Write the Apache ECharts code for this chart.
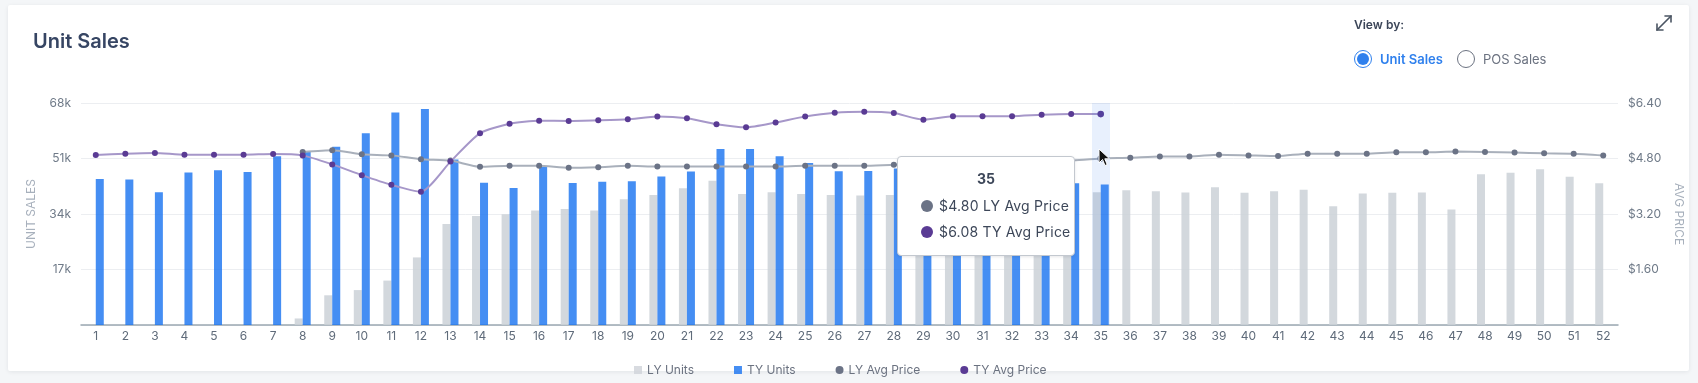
<!DOCTYPE html>
<html>
<head>
<meta charset="utf-8">
<script src="https://cdn.jsdelivr.net/npm/echarts@6/dist/echarts.min.js"></script>
<style>
  html, body { margin:0; padding:0; width:1698px; height:383px; background:#f4f6f8; overflow:hidden; font-family: Inter, "Noto Sans", sans-serif; }
  #card { position:absolute; left:8px; top:5px; width:1681px; height:366px; background:#fff; box-shadow:0 1px 4px rgba(16,24,40,0.08); border-radius:2px; }
  #chart { position:absolute; left:0; top:0; width:1698px; height:383px; }
  .txt { position:absolute; white-space:nowrap; }
  #title { left:33px; top:28.5px; line-height:24px; font-size:20px; font-weight:600; color:#364563; }
  #viewby { left:1354px; top:16px; line-height:18px; font-size:12px; font-weight:600; color:#3b4558; }
  .radio { position:absolute; width:18px; height:18px; border-radius:50%; box-sizing:border-box; }
  #r1 { left:1354px; top:50.3px; border:1.5px solid #2f80ed; }
  #r1::after { content:""; position:absolute; left:1.5px; top:1.5px; width:12px; height:12px; border-radius:50%; background:#2f80ed; }
  #r2 { left:1456.7px; top:50.3px; border:1.3px solid #6b7280; }
  #l1 { left:1380px; top:50.3px; line-height:18px; font-size:13px; font-weight:600; color:#2f80ed; }
  #l2 { left:1483px; top:50.3px; line-height:18px; font-size:13px; font-weight:400; color:#6b7280; }
  #expand { position:absolute; left:1655px; top:14px; }
  #cursor { position:absolute; left:1098px; top:148px; z-index:20; }
</style>
</head>
<body>
<div id="card"></div>
<div id="chart"></div>
<div class="txt" id="title">Unit Sales</div>
<div class="txt" id="viewby">View by:</div>
<div class="radio" id="r1"></div>
<div class="txt" id="l1">Unit Sales</div>
<div class="radio" id="r2"></div>
<div class="txt" id="l2">POS Sales</div>
<svg id="expand" width="18" height="18" viewBox="0 0 18 18" fill="none" stroke="#4b5563" stroke-width="1.6" stroke-linecap="round">
  <path d="M2 16 L16 2"/><path d="M10 2 H16 V8"/><path d="M2 10 V16 H8"/>
</svg>
<svg id="cursor" width="14" height="20" viewBox="0 0 14 20">
  <path d="M1 1 L1 15 L4.5 11.5 L7 17.5 L9.2 16.6 L6.8 10.8 L11.5 10.8 Z" fill="#111" stroke="#fff" stroke-width="1"/>
</svg>
<script>
const categories = ['1','2','3','4','5','6','7','8','9','10','11','12','13','14','15','16','17','18','19','20','21','22','23','24','25','26','27','28','29','30','31','32','33','34','35','36','37','38','39','40','41','42','43','44','45','46','47','48','49','50','51','52'];

const lyUnits = [null,null,null,null,null,null,null,2000,9100,10700,13600,20700,30900,33400,33900,35100,35500,35100,38500,39800,41900,44200,40100,40700,40100,39800,39700,39800,40500,40800,41000,40600,40200,40000,40700,41300,41000,40600,42200,40500,41000,41400,36400,40300,40500,40600,35400,46200,46600,47700,45400,43400];

const tyUnits = [44700,44600,40700,46700,47400,46900,51700,53200,54600,58700,65100,66200,50700,43600,42000,48500,43500,43900,44000,45500,47000,53900,53900,51700,49600,47100,47200,47900,46000,46500,45800,45500,44500,43400,43000,null,null,null,null,null,null,null,null,null,null,null,null,null,null,null,null,null];

const lyAvgPrice = [null,null,null,null,null,null,null,4.99,5.04,4.92,4.89,4.78,4.74,4.56,4.59,4.59,4.53,4.55,4.59,4.57,4.57,4.57,4.57,4.57,4.59,4.59,4.59,4.62,4.63,4.64,4.66,4.68,4.70,4.74,4.80,4.82,4.86,4.86,4.91,4.89,4.87,4.94,4.94,4.94,4.98,4.98,5.00,4.99,4.97,4.95,4.94,4.89];

const tyAvgPrice = [4.90,4.94,4.96,4.91,4.91,4.91,4.93,4.89,4.63,4.32,4.04,3.84,4.71,5.53,5.80,5.89,5.88,5.90,5.93,6.01,5.96,5.79,5.70,5.84,6.01,6.12,6.15,6.11,5.92,6.02,6.02,6.02,6.06,6.08,6.08,null,null,null,null,null,null,null,null,null,null,null,null,null,null,null,null,null];

const unitTicks = { min: 0, max: 68000, interval: 17000 };
const priceTicks = { min: 0, max: 6.4, interval: 1.6 };

const FONT = 'Inter';
const chart = echarts.init(document.getElementById('chart'), null, { renderer: 'canvas' });

const option = {
  animation: false,
  textStyle: { fontFamily: FONT },
  grid: { left: 81, right: 80, top: 103, bottom: 58, containLabel: false },
  tooltip: {
    trigger: 'axis',
    triggerOn: 'none',
    alwaysShowContent: true,
    transitionDuration: 0,
    position: [897, 156],
    padding: 0,
    borderWidth: 1,
    borderColor: '#c3c8cf',
    borderRadius: 4,
    backgroundColor: '#ffffff',
    extraCssText: 'box-shadow:0 1px 3px rgba(16,24,40,0.10);',
    axisPointer: {
      type: 'line',
      z: 50,
      lineStyle: { color: 'rgba(45,115,235,0.11)', width: 18, type: 'solid' }
    },
    formatter: function (params) {
      const rows = params.filter(p => p.seriesType === 'line' && p.value != null);
      let html = '<div style="width:176px;box-sizing:border-box;padding:12px 0 10px 23px;font-family:Inter;color:#3d4759;">';
      html += '<div style="line-height:20px;font-size:14px;font-weight:700;text-align:center;margin-left:-23px;">' + params[0].axisValue + '</div>';
      html += '<div style="height:4px"></div>';
      rows.forEach(p => {
        html += '<div style="line-height:26px;font-size:14px;letter-spacing:0.2px;">' +
          '<span style="display:inline-block;width:12px;height:12px;border-radius:50%;background:' + p.color + ';vertical-align:-1px;margin-right:6px;"></span>' +
          '$' + Number(p.value).toFixed(2) + ' ' + p.seriesName + '</div>';
      });
      html += '</div>';
      return html;
    }
  },
  legend: {
    top: 359,
    left: 629,
    itemWidth: 8,
    itemHeight: 8,
    itemGap: 40,
    selectedMode: false,
    textStyle: { color: '#6b7280', fontSize: 12, fontFamily: FONT },
    data: [
      { name: 'LY Units', icon: 'rect', itemStyle: { color: '#d1d5db' } },
      { name: 'TY Units', icon: 'rect', itemStyle: { color: '#1f77f0' } },
      { name: 'LY Avg Price', icon: 'circle', itemStyle: { color: '#6b7386' } },
      { name: 'TY Avg Price', icon: 'circle', itemStyle: { color: '#5a3b94' } }
    ]
  },
  xAxis: {
    type: 'category',
    data: categories,
    boundaryGap: true,
    axisLine: { show: true, lineStyle: { color: '#9aa8b1', width: 1.5 } },
    axisTick: { show: false },
    axisLabel: { interval: 0, margin: 5, color: '#5f6b7a', fontSize: 12, fontFamily: FONT }
  },
  yAxis: [
    {
      type: 'value',
      min: unitTicks.min, max: unitTicks.max, interval: unitTicks.interval,
      name: 'UNIT SALES',
      nameLocation: 'middle',
      nameGap: 44,
      nameTextStyle: { color: '#a7b0bc', fontSize: 12, fontFamily: FONT },
      axisLine: { show: false },
      axisTick: { show: false },
      splitLine: { lineStyle: { color: '#eceef1', width: 1 } },
      axisLabel: {
        margin: 10, color: '#6f7a88', fontSize: 12, fontFamily: FONT,
        formatter: v => v === 0 ? '' : (v / 1000) + 'k'
      }
    },
    {
      type: 'value',
      min: priceTicks.min, max: priceTicks.max, interval: priceTicks.interval,
      name: 'AVG PRICE',
      nameLocation: 'middle',
      nameGap: 43,
      nameRotate: -90,
      nameTextStyle: { color: '#a7b0bc', fontSize: 12, fontFamily: FONT },
      axisLine: { show: false },
      axisTick: { show: false },
      splitLine: { show: false },
      axisLabel: {
        margin: 10, color: '#6f7a88', fontSize: 12, fontFamily: FONT,
        formatter: v => v === 0 ? '' : '$' + v.toFixed(2)
      }
    }
  ],
  series: [
    {
      name: 'LY Units', type: 'bar', yAxisIndex: 0, data: lyUnits,
      barWidth: 8, barGap: '0%',
      itemStyle: { color: '#cbd1d7', opacity: 0.85 },
      emphasis: { disabled: true }
    },
    {
      name: 'TY Units', type: 'bar', yAxisIndex: 0, data: tyUnits,
      barWidth: 8, barGap: '0%',
      itemStyle: { color: '#1f77f0', opacity: 0.83 },
      emphasis: { disabled: true }
    },
    {
      name: 'LY Avg Price', type: 'line', yAxisIndex: 1, data: lyAvgPrice,
      smooth: 0.2, symbol: 'circle', symbolSize: 6, showSymbol: true,
      itemStyle: { color: '#6b7386' },
      lineStyle: { color: '#a9b0bb', width: 2 },
      emphasis: { disabled: true },
      z: 3
    },
    {
      name: 'TY Avg Price', type: 'line', yAxisIndex: 1, data: tyAvgPrice,
      smooth: 0.2, symbol: 'circle', symbolSize: 6, showSymbol: true,
      itemStyle: { color: '#5a3b94' },
      lineStyle: { color: '#a697c9', width: 2 },
      emphasis: { disabled: true },
      z: 4
    }
  ]
};

chart.setOption(option);
chart.dispatchAction({ type: 'showTip', seriesIndex: 3, dataIndex: 34 });
</script>
</body>
</html>
